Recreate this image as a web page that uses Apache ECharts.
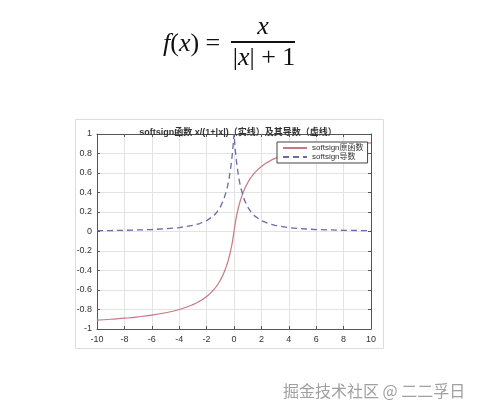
<!DOCTYPE html>
<html>
<head>
<meta charset="utf-8">
<script src="https://cdn.jsdelivr.net/npm/echarts@6/dist/echarts.min.js"></script>
<style>html,body{margin:0;padding:0;background:#fff;}#c{width:483px;height:413px;}</style>
</head>
<body>
<div id="c"></div>
<script>
var xs = [-10,-9,-8,-7,-6,-5,-4,-3,-2.5,-2,-1.5,-1.25,-1,-0.75,-0.5,-0.35,-0.2,-0.1,0,0.1,0.2,0.35,0.5,0.75,1,1.25,1.5,2,2.5,3,4,5,6,7,8,9,10];
var softsignVals = [-0.909,-0.9,-0.889,-0.875,-0.857,-0.833,-0.8,-0.75,-0.714,-0.667,-0.6,-0.556,-0.5,-0.429,-0.333,-0.259,-0.167,-0.091,0,0.091,0.167,0.259,0.333,0.429,0.5,0.556,0.6,0.667,0.714,0.75,0.8,0.833,0.857,0.875,0.889,0.9,0.909];
var derivVals = [0.008,0.01,0.012,0.016,0.020,0.028,0.04,0.063,0.082,0.111,0.16,0.198,0.25,0.327,0.444,0.549,0.694,0.826,1.0,0.826,0.694,0.549,0.444,0.327,0.25,0.198,0.16,0.111,0.082,0.063,0.04,0.028,0.020,0.016,0.012,0.01,0.008];
var seriesNames = ['softsign原函数','softsign导数'];
var titleText = 'softsign函数 x/(1+|x|)（实线）及其导数（虚线）';
var watermark = '掘金技术社区 @ 二二孚日';

function pairs(ys){ return xs.map(function(x,i){ return [x, ys[i]]; }); }

var chart = echarts.init(document.getElementById('c'), null, {renderer:'canvas'});
var axisCommon = {
  axisLine:{show:true,onZero:false,lineStyle:{color:'#555',width:1}},
  axisTick:{show:true,inside:true,length:3,lineStyle:{color:'#555'}}
};
var mathRich = {i:{fontStyle:'italic',fontSize:26,fontFamily:'Liberation Serif'},
                u:{fontSize:26,fontFamily:'Liberation Serif'}};
chart.setOption({
  backgroundColor:'#fff',
  animation:false,
  title:{text:titleText,left:233,top:123,textAlign:'center',
    textStyle:{fontSize:9,fontWeight:'bold',color:'#333',fontFamily:'Liberation Sans, Noto Sans CJK SC'}},
  legend:{
    orient:'vertical', left:277, top:142,
    backgroundColor:'#fff', borderColor:'#444', borderWidth:1,
    padding:[2,4,2,5], itemGap:1, itemWidth:24, itemHeight:8,
    itemStyle:{opacity:0},
    textStyle:{fontSize:8,color:'#333',fontFamily:'Liberation Sans, Noto Sans CJK SC'},
    data:seriesNames
  },
  grid:{left:97,right:112,top:134,bottom:84,show:false},
  xAxis:[
    Object.assign({type:'value',min:-10,max:10,interval:2,position:'bottom',
      splitLine:{show:true,lineStyle:{color:'#e3e3e3',width:1}},
      axisLabel:{color:'#333',fontSize:9,fontFamily:'Liberation Sans',margin:6}}, axisCommon),
    Object.assign({type:'value',min:-10,max:10,interval:2,position:'top',
      splitLine:{show:false},axisLabel:{show:false}}, axisCommon)
  ],
  yAxis:[
    Object.assign({type:'value',min:-1,max:1,interval:0.2,position:'left',
      splitLine:{show:true,lineStyle:{color:'#e3e3e3',width:1}},
      axisLabel:{color:'#333',fontSize:9,fontFamily:'Liberation Sans',margin:5,
        formatter:function(v){ return String(Math.round(v*10)/10); }}}, axisCommon),
    Object.assign({type:'value',min:-1,max:1,interval:0.2,position:'right',
      splitLine:{show:false},axisLabel:{show:false}}, axisCommon)
  ],
  series:[
    {name:seriesNames[0],type:'line',data:pairs(softsignVals),smooth:true,symbol:'none',
      lineStyle:{color:'#c47a86',width:1.2},itemStyle:{color:'#c47a86'}},
    {name:seriesNames[1],type:'line',data:pairs(derivVals),smooth:false,symbol:'none',
      lineStyle:{color:'#6a6aa8',width:1.3,type:[6,4]},itemStyle:{color:'#6a6aa8'}}
  ],
  graphic:[
    {type:'rect',z:-10,shape:{x:75.5,y:119.5,width:308,height:229},
      style:{fill:'#fff',stroke:'#dcdcdc',lineWidth:1}},
    {type:'text',x:163,y:44,style:{
      text:'{i|f}{u|(}{i|x}{u|) =}',rich:mathRich,
      fill:'#111',verticalAlign:'middle'}},
    {type:'line',shape:{x1:231,y1:42,x2:295,y2:42},style:{stroke:'#111',lineWidth:1.8}},
    {type:'text',x:263,y:27,style:{text:'{i|x}',rich:mathRich,
      fill:'#111',align:'center',verticalAlign:'middle'}},
    {type:'text',x:264,y:58,style:{text:'{u||}{i|x}{u|| + 1}',rich:mathRich,
      fill:'#111',align:'center',verticalAlign:'middle'}},
    {type:'text',x:283,y:391,style:{text:watermark,fontSize:16,fontFamily:'Noto Sans CJK SC',
      fill:'#a0a0a0',verticalAlign:'middle',stroke:'#fff',lineWidth:1}}
  ]
});
</script>
</body>
</html>
